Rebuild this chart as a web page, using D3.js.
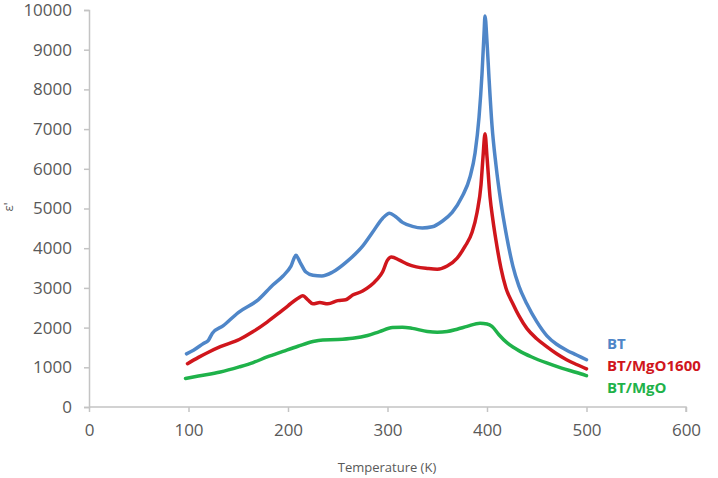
<!DOCTYPE html>
<html><head><meta charset="utf-8">
<script src="https://cdn.jsdelivr.net/npm/d3@7"></script>
<style>body{margin:0;background:#fff}svg{display:block}</style>
</head><body>
<script>
// ---- data ----
const xTicks = [0,100,200,300,400,500,600];
const yTicks = [0,1000,2000,3000,4000,5000,6000,7000,8000,9000,10000];
const seriesNames = ["BT","BT/MgO1600","BT/MgO"];
const seriesColors = ["#4f86c8","#d0161c","#1fb24a"];

const btT = [98,105,115,120,124,135,150,170,185,195,203,208,212,218,225,234,245,260,275,285,295,302,308,315,325,335,345,355,365,375,383,388,392,395,397,398,400,402,405,409,414,419,426,432,440,450,460,470,480,490,500];
const btV = [1340,1430,1600,1680,1860,2050,2380,2700,3080,3300,3550,3820,3650,3400,3320,3300,3400,3680,4050,4400,4750,4880,4800,4650,4550,4510,4540,4680,4900,5300,5800,6400,7300,8400,9400,9850,9200,8300,7100,6100,5150,4400,3550,3050,2600,2150,1800,1580,1430,1310,1190];

const mgo1600T = [99,110,120,132,151,165,179,190,200,210,215,220,225,232,240,250,258,265,275,289,295,300,304,312,320,329,340,350,360,370,378,385,390,394,396,398,400,403,406,409,414,419,426,432,440,450,460,470,480,490,500];
const mgo1600V = [1090,1250,1380,1520,1700,1900,2140,2350,2550,2740,2800,2700,2600,2630,2600,2680,2700,2820,2920,3200,3400,3700,3780,3700,3600,3530,3490,3470,3550,3750,4050,4400,4900,5600,6300,6880,6300,5300,4700,4200,3500,3000,2600,2300,1980,1720,1520,1340,1190,1070,960];

const mgoT = [97,110,132,151,165,179,195,210,225,235,250,265,280,292,305,315,325,340,350,360,370,380,393,400,405,412,420,426,432,445,460,475,490,500];
const mgoV = [720,780,880,1010,1120,1260,1400,1530,1650,1690,1700,1730,1800,1900,2000,2010,1980,1900,1880,1900,1960,2030,2110,2090,2030,1820,1620,1510,1420,1260,1110,980,870,790];

const xLabel = "Temperature (K)";
const yLabel = "ε'";

// ---- chart ----
const W = 718, H = 478;
const svg = d3.select("body").append("svg").attr("width", W).attr("height", H);
const x = d3.scaleLinear().domain([0,600]).range([89,686]);
const y = d3.scaleLinear().domain([0,10000]).range([407,10]);
const axisColor = "#c4c4c4", textColor = "#595959";
const font = "'Open Sans', sans-serif";

const gx = svg.append("g").attr("transform","translate(0,407)")
  .call(d3.axisBottom(x).tickValues(xTicks).tickFormat(d3.format("d")).tickSize(5).tickPadding(12));
const gy = svg.append("g").attr("transform","translate(89,0)")
  .call(d3.axisLeft(y).tickValues(yTicks).tickFormat(d3.format("d")).tickSize(5).tickPadding(12));
[gx,gy].forEach(g=>{
  g.selectAll("path,line").attr("stroke",axisColor).attr("stroke-width",1.5);
  g.selectAll("text").attr("fill",textColor).attr("font-family",font).attr("font-size","17px");
});
gx.select(".domain").attr("d","M89,0H686V5");

svg.append("text").attr("x",387).attr("y",472).attr("text-anchor","middle")
  .attr("font-family",font).attr("font-size","13px").attr("fill",textColor).text(xLabel);
svg.append("text").attr("transform","translate(13,207) rotate(-90)").attr("text-anchor","middle")
  .attr("font-family",font).attr("font-size","13px").attr("fill",textColor).text(yLabel);

const series = [
  {T: btT, V: btV},
  {T: mgo1600T, V: mgo1600V},
  {T: mgoT, V: mgoV}
];
const line = d3.line().x(d=>x(d[0])).y(d=>y(d[1])).curve(d3.curveMonotoneX);
[2,1,0].forEach(i=>{
  const s = series[i];
  svg.append("path").datum(s.T.map((t,k)=>[t,s.V[k]]))
    .attr("fill","none").attr("stroke",seriesColors[i]).attr("stroke-width",3.5)
    .attr("stroke-linejoin","round").attr("stroke-linecap","round").attr("d",line);
});

const legY = [344,366,388];
seriesNames.forEach((n,i)=>{
  svg.append("text").attr("x",607).attr("y",legY[i]).attr("dy","0.35em")
    .attr("font-family",font).attr("font-weight","bold").attr("font-size","15px")
    .attr("fill",seriesColors[i]).text(n);
});
</script>
</body></html>
